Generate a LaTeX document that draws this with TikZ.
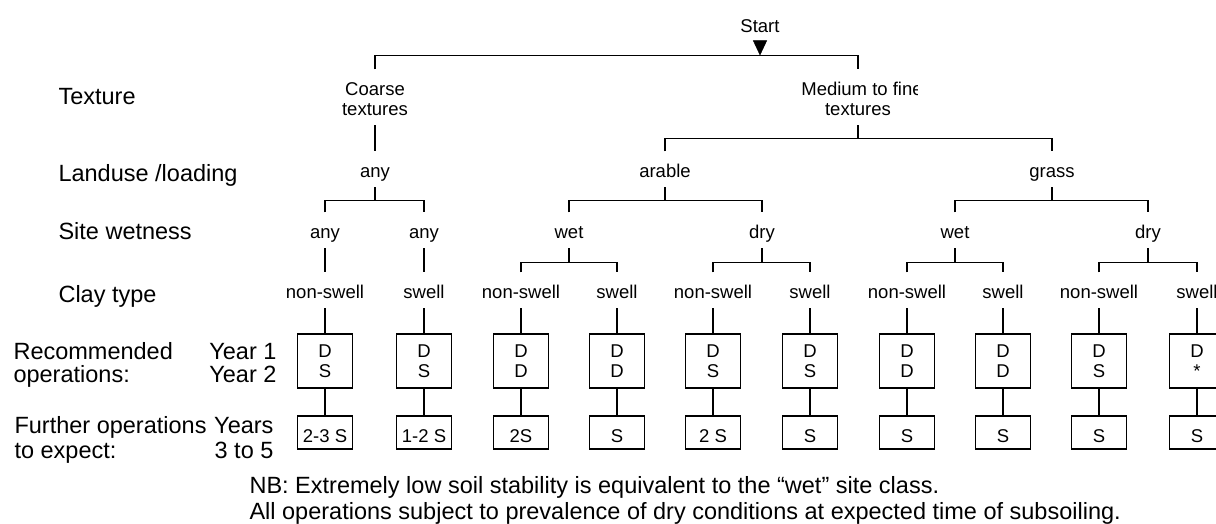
\documentclass[tikz,border=0pt]{standalone}
\usepackage{fontspec}
\setmainfont{Liberation Sans}
\usetikzlibrary{arrows.meta}
\begin{document}
\begin{tikzpicture}[x=1pt,y=-1pt,line width=1.1pt,
  lbl/.style={font=\fontsize{23.5}{26}\selectfont,inner sep=0pt},
  tt/.style={font=\fontsize{18.5}{20}\selectfont,anchor=base,inner xsep=0pt,inner ysep=3pt,text height=22pt,text depth=6.5pt},
  opbox/.style={draw,font=\fontsize{18.5}{20}\selectfont,align=center,minimum width=55pt,minimum height=54pt,inner sep=0pt},
  furbox/.style={draw,font=\fontsize{18.5}{20}\selectfont,minimum width=55pt,minimum height=33pt,inner sep=0pt,text height=19pt,text depth=0pt}]
\useasboundingbox (0,0) rectangle (1216,523);

% left labels
\node[lbl,anchor=base west] (lTex) at (58,104) {Texture};
\node[lbl,anchor=base west] (lLand) at (58,181) {Landuse /loading};
\node[lbl,anchor=base west] (lSite) at (58,239) {Site wetness};
\node[lbl,anchor=base west] (lClay) at (58,302) {Clay type};
\node[lbl,anchor=base west] (lRec1) at (13,359) {Recommended};
\node[lbl,anchor=base west] (lRec2) at (13,382) {operations:};
\node[lbl,anchor=base east] (lY1) at (277,359) {Year 1};
\node[lbl,anchor=base east] (lY2) at (277,382) {Year 2};
\node[lbl,anchor=base west] (lFur1) at (14,433) {Further operations};
\node[lbl,anchor=base west] (lFur2) at (14,458) {to expect:};
\node[lbl,anchor=base east] (lYs1) at (274,433) {Years};
\node[lbl,anchor=base east] (lYs2) at (274,458) {3 to 5};

% tree
\node[tt] (start) at (760,32) {Start};
\node[tt] (coarseA) at (375,95) {Coarse};
\node[tt] (coarseB) at (375,115) {textures};
\begin{scope}
  \clip (780,60) rectangle (917,110);
  \node[tt] (mtfA) at (862,95) {Medium to fine};
\end{scope}
\node[tt] (mtfB) at (858,115) {textures};

\node[tt] (anyL) at (375,177) {any};
\node[tt] (arable) at (665,177) {arable};
\node[tt] (grass) at (1052,177) {grass};

\node[tt] (s1) at (325,238) {any};
\node[tt] (s2) at (424,238) {any};
\node[tt] (s3) at (569,238) {wet};
\node[tt] (s4) at (762,238) {dry};
\node[tt] (s5) at (955,238) {wet};
\node[tt] (s6) at (1148,238) {dry};

\foreach \i/\x/\cl/\ya/\yb/\fu in {1/325/non-swell/D/S/2-3 S, 2/424/swell/D/S/1-2 S,
  3/521/non-swell/D/D/2S, 4/617/swell/D/D/S, 5/713/non-swell/D/S/2 S, 6/810/swell/D/S/S,
  7/907/non-swell/D/D/S, 8/1003/swell/D/D/S, 9/1099/non-swell/D/S/S, 10/1197/swell/D/*/S}{
  \node[tt] (c\i) at (\x,298) {\cl};
  \node[opbox] (b\i) at (\x,361) {\ya\\\yb};
  \node[furbox] (f\i) at (\x,432.5) {\fu};
  \draw (c\i.south) -- (b\i.north);
  \draw (b\i.south) -- (f\i.north);
}

% connectors
\draw (coarseA.north) -- ++(0,-14) coordinate (tl) -| (mtfA.north -| mtfB.north);
\draw[line width=0.4pt,-{Triangle[length=15pt,width=14pt]}] (start.south) -- (start.south |- tl);
\draw (coarseB.south) -- (anyL.north);
\draw (mtfB.south) -- ++(0,13.5) coordinate (mj);
\draw (arable.north) |- (mj) -| (grass.north);
\draw (anyL.south) -- ++(0,13) coordinate (aj);
\draw (s1.north) |- (aj) -| (s2.north);
\draw (arable.south) -- ++(0,13) coordinate (arj);
\draw (s3.north) |- (arj) -| (s4.north);
\draw (grass.south) -- ++(0,13) coordinate (gj);
\draw (s5.north) |- (gj) -| (s6.north);
\draw (s1.south) -- (c1.north);
\draw (s2.south) -- (c2.north);
\draw (s3.south) -- ++(0,14) coordinate (j3);
\draw (c3.north) |- (j3) -| (c4.north);
\draw (s4.south) -- ++(0,14) coordinate (j4);
\draw (c5.north) |- (j4) -| (c6.north);
\draw (s5.south) -- ++(0,14) coordinate (j5);
\draw (c7.north) |- (j5) -| (c8.north);
\draw (s6.south) -- ++(0,14) coordinate (j6);
\draw (c9.north) |- (j6) -| (c10.north);

% notes
\node[lbl,anchor=base west] (nb1) at (249,493) {NB: Extremely low soil stability is equivalent to the “wet” site class.};
\node[lbl,anchor=base west] (nb2) at (249,519) {All operations subject to prevalence of dry conditions at expected time of subsoiling.};
\end{tikzpicture}
\end{document}
